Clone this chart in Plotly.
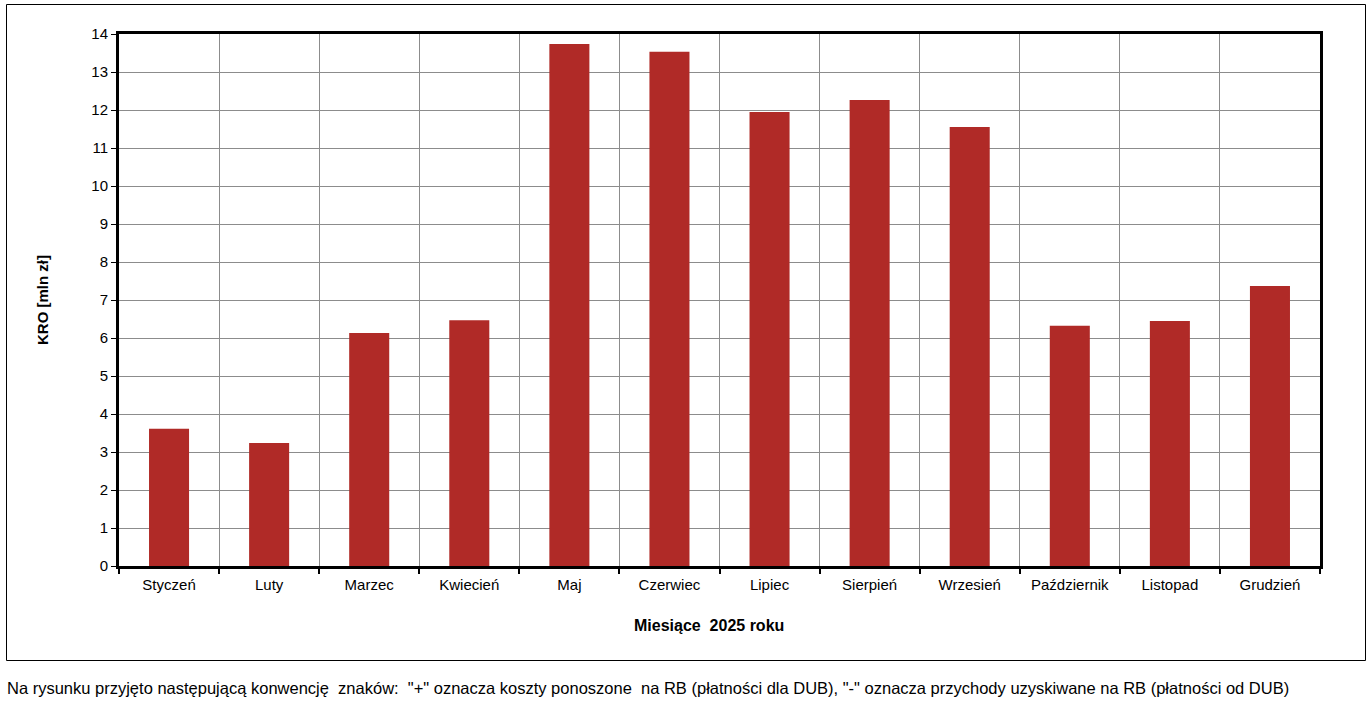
import plotly.graph_objects as go

months = ["Styczeń", "Luty", "Marzec", "Kwiecień", "Maj", "Czerwiec", "Lipiec",
          "Sierpień", "Wrzesień", "Październik", "Listopad", "Grudzień"]
kro_values = [3.61, 3.24, 6.13, 6.47, 13.74, 13.53, 11.95, 12.26, 11.55, 6.32, 6.45, 7.37]
y_ticks = list(range(0, 15))

x_title = "Miesiące  2025 roku"
y_title = "KRO [mln zł]"
footnote = ('Na rysunku przyjęto następującą konwencję  znaków:  "+" oznacza koszty ponoszone  na RB '
            '(płatności dla DUB), "-" oznacza przychody uzyskiwane na RB (płatności od DUB)')

W, H = 1372, 702
L, R, T, B = 119, 1320, 34, 566
pw, ph = R - L, B - T


def px(x):
    return (x - L) / pw


def py(y):
    return (B - y) / ph


FONT = "Liberation Sans, Arial, sans-serif"

fig = go.Figure(go.Bar(
    x=months, y=kro_values,
    marker=dict(color="#B02A27", line=dict(width=0)),
    width=0.4,
    hoverinfo="x+y",
))

fig.update_layout(
    width=W, height=H,
    margin=dict(l=L, r=W - R, t=T, b=H - B),
    paper_bgcolor="white", plot_bgcolor="white",
    showlegend=False,
    font=dict(family=FONT, size=15, color="black"),
    xaxis=dict(
        type="category", tickson="boundaries",
        showgrid=True, gridcolor="#8C8C8C", gridwidth=1,
        showline=True, linecolor="black", linewidth=3, mirror=True,
        ticks="outside", ticklen=5, tickwidth=2, tickcolor="black",
        tickfont=dict(family=FONT, size=15, color="black"),
        ticklabelstandoff=3,
        range=[-0.5, 11.5],
    ),
    yaxis=dict(
        range=[0, 14], tickvals=y_ticks,
        showgrid=True, gridcolor="#8C8C8C", gridwidth=1,
        showline=True, linecolor="black", linewidth=3, mirror=True,
        ticks="outside", ticklen=5, tickwidth=1, tickcolor="black",
        tickfont=dict(family=FONT, size=15, color="black"),
        zeroline=False,
    ),
    shapes=[dict(
        type="rect", xref="paper", yref="paper",
        x0=px(6.5), x1=px(1365.5), y0=py(660.5), y1=py(4.5),
        line=dict(color="black", width=1), fillcolor="rgba(0,0,0,0)", layer="below",
    )],
    annotations=[
        dict(text=f"<b>{x_title}</b>", xref="paper", yref="paper",
             x=px(709), y=py(625), xanchor="center", yanchor="middle",
             showarrow=False, font=dict(family=FONT, size=16, color="black")),
        dict(text=f"<b>{y_title}</b>", xref="paper", yref="paper",
             x=px(42), y=py(300), xanchor="center", yanchor="middle", textangle=-90,
             showarrow=False, font=dict(family=FONT, size=15, color="black")),
        dict(text=footnote, xref="paper", yref="paper",
             x=px(5), y=py(688), xanchor="left", yanchor="middle",
             showarrow=False, font=dict(family=FONT, size=16.5, color="black")),
    ],
)

fig.write_html("out.html", config={"displayModeBar": False},
               post_script="document.body.style.margin='0';document.body.style.overflow='hidden';")
